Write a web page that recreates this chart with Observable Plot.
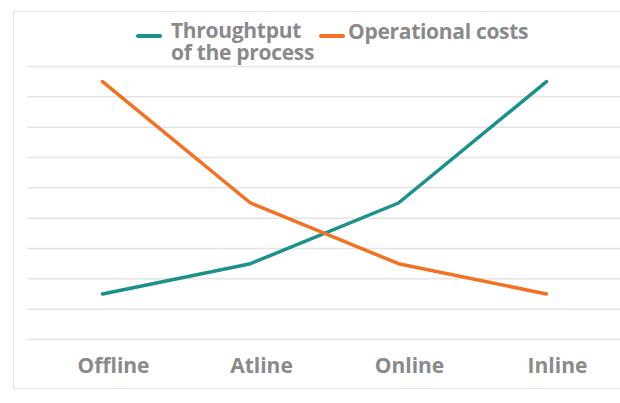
<!DOCTYPE html>
<html><head><meta charset="utf-8">
<script src="https://cdn.jsdelivr.net/npm/d3@7"></script>
<script src="https://cdn.jsdelivr.net/npm/@observablehq/plot@0.6"></script>
<style>
body{margin:0;background:#fff;font-family:"Open Sans",sans-serif;}
#wrap{position:relative;width:620px;height:403px;overflow:hidden;}
#box{position:absolute;left:13px;top:11px;width:640px;height:376px;border:1px solid #e3e3e3;}
#legend{position:absolute;top:0;left:0;width:620px;height:70px;font-weight:700;font-size:21px;color:#8a8a8a;line-height:18px;letter-spacing:-0.3px;}
.sw{position:absolute;height:4px;border-radius:2px;}
.lt{position:absolute;white-space:nowrap;}
#chart{position:absolute;left:0;top:0;}
</style></head>
<body><div id="wrap"><div id="box"></div><div id="chart"></div><div id="legend"></div></div>
<script>
const categories = ["Offline","Atline","Online","Inline"];
const seriesNames = ["Throughtput of the process","Operational costs"];
const legendLines = [["Throughtput","of the process"],["Operational costs"]];
const throughput = [1.5, 2.5, 4.5, 8.5];
const costs = [8.5, 4.5, 2.5, 1.5];
const yTicks = [0,1,2,3,4,5,6,7,8,9];
const colors = ["#1a9189","#f37121"];

const data = [];
categories.forEach((c,i)=>data.push({cat:c, v:throughput[i], s:seriesNames[0]}));
categories.forEach((c,i)=>data.push({cat:c, v:costs[i], s:seriesNames[1]}));

const plot = Plot.plot({
  width:620, height:403,
  marginLeft:27, marginRight:0, marginTop:66, marginBottom:64,
  style:{fontFamily:"Open Sans", background:"transparent"},
  x:{type:"point", domain:categories, padding:0.5},
  y:{domain:[0,9], axis:null},
  color:{domain:seriesNames, range:colors},
  marks:[
    Plot.ruleY(yTicks,{stroke:"#e4e4e4", strokeWidth:1.5}),
    Plot.axisX({tickSize:0, tickPadding:19, dx:11, fontSize:21, fontWeight:"bold", color:"#8a8a8a", label:null}),
    Plot.line(data,{x:"cat", y:"v", z:"s", stroke:"s", strokeWidth:3.5, strokeLinecap:"round"})
  ]
});
document.getElementById("chart").appendChild(plot);

const lg = document.getElementById("legend");
lg.innerHTML = `
<div class="sw" style="left:136px;top:34px;width:26px;background:${colors[0]}"></div>
<div class="lt" style="left:171px;top:20.5px">${legendLines[0][0]}</div>
<div class="lt" style="left:171px;top:42.5px">${legendLines[0][1]}</div>
<div class="sw" style="left:319px;top:34px;width:26px;background:${colors[1]}"></div>
<div class="lt" style="left:348px;top:21.5px">${legendLines[1][0]}</div>`;
</script></body></html>
